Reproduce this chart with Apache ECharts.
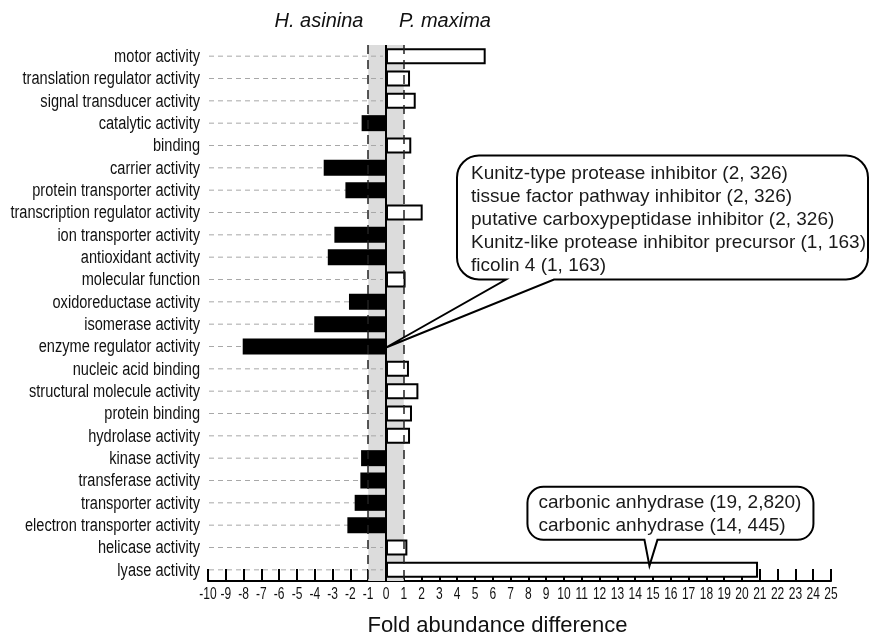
<!DOCTYPE html>
<html>
<head>
<meta charset="utf-8">
<script src="https://cdn.jsdelivr.net/npm/echarts@6/dist/echarts.min.js"></script>
<style>
html,body{margin:0;padding:0;background:#fff;}
#chart{width:881px;height:638px;}
</style>
</head>
<body>
<div id="chart"></div>
<script>
// ---- data ----
const categories = [
  'motor activity','translation regulator activity','signal transducer activity','catalytic activity',
  'binding','carrier activity','protein transporter activity','transcription regulator activity',
  'ion transporter activity','antioxidant activity','molecular function','oxidoreductase activity',
  'isomerase activity','enzyme regulator activity','nucleic acid binding','structural molecule activity',
  'protein binding','hydrolase activity','kinase activity','transferase activity','transporter activity',
  'electron transporter activity','helicase activity','lyase activity'
];
const foldValues = [
  5.6, 1.35, 1.67, -1.37,
  1.42, -3.5, -2.28, 2.06,
  -2.9, -3.27, 1.1, -2.08,
  -4.03, -8.05, 1.29, 1.82,
  1.46, 1.35, -1.4, -1.44, -1.76,
  -2.17, 1.2, 20.9
];
const xTickLabels = [-10,-9,-8,-7,-6,-5,-4,-3,-2,-1,0,1,2,3,4,5,6,7,8,9,10,11,12,13,14,15,16,17,18,19,20,21,22,23,24,25];
const xRange = {min: -10, max: 25, interval: 1};
const bandEdges = [-1, 1];
const speciesLabels = ['H. asinina', 'P. maxima'];
const callout1Lines = [
  'Kunitz-type protease inhibitor (2, 326)',
  'tissue factor pathway inhibitor (2, 326)',
  'putative carboxypeptidase inhibitor (2, 326)',
  'Kunitz-like protease inhibitor precursor (1, 163)',
  'ficolin 4 (1, 163)'
];
const callout1Target = {category: 'enzyme regulator activity', value: 0};
const callout2Lines = [
  'carbonic anhydrase (19, 2,820)',
  'carbonic anhydrase (14, 445)'
];
const callout2Target = {category: 'lyase activity', value: 14.8};
const axisTitle = 'Fold abundance difference';

// ---- chart ----
const SANS = '"Liberation Sans", Arial, Helvetica, sans-serif';
const chart = echarts.init(document.getElementById('chart'));

function calloutPath(x0, y0, x1, y1, r, tA, tB, tip) {
  return 'M' + (x0 + r) + ' ' + y0 +
    ' L' + (x1 - r) + ' ' + y0 +
    ' A' + r + ' ' + r + ' 0 0 1 ' + x1 + ' ' + (y0 + r) +
    ' L' + x1 + ' ' + (y1 - r) +
    ' A' + r + ' ' + r + ' 0 0 1 ' + (x1 - r) + ' ' + y1 +
    ' L' + tB + ' ' + y1 +
    ' L' + tip[0] + ' ' + tip[1] +
    ' L' + tA + ' ' + y1 +
    ' L' + (x0 + r) + ' ' + y1 +
    ' A' + r + ' ' + r + ' 0 0 1 ' + x0 + ' ' + (y1 - r) +
    ' L' + x0 + ' ' + (y0 + r) +
    ' A' + r + ' ' + r + ' 0 0 1 ' + (x0 + r) + ' ' + y0 + ' Z';
}

function makeCallout(lines, geom) {
  return function (params, api) {
    const c = api.coord([api.value(0), api.value(1)]);
    const tip = [c[0], c[1] + geom.tipDy];
    const children = [{
      type: 'path',
      shape: {pathData: calloutPath(tip[0] + geom.x0, tip[1] + geom.y0, tip[0] + geom.x1, tip[1] + geom.y1,
        geom.r, tip[0] + geom.tA, tip[0] + geom.tB, tip)},
      style: {fill: '#fff', stroke: '#000', lineWidth: 2}
    }];
    lines.forEach((s, i) => children.push({
      type: 'text', x: tip[0] + geom.tx, y: tip[1] + geom.ty + geom.lh * i,
      style: {text: s, fill: '#1a1a1a', font: geom.font, align: 'left', verticalAlign: 'middle'}
    }));
    return {type: 'group', children: children};
  };
}

const option = {
  backgroundColor: '#fff',
  animation: false,
  grid: {left: 208, right: 50, top: 45, bottom: 57, containLabel: false, outerBoundsMode: 'none'},
  xAxis: {
    type: 'value', min: xRange.min, max: xRange.max, interval: xRange.interval,
    axisLine: {show: true, onZero: false, lineStyle: {color: '#000', width: 2}},
    axisTick: {show: true, inside: true, length: 12, lineStyle: {color: '#000', width: 2}},
    axisLabel: {show: false},
    splitLine: {show: false},
    name: axisTitle, nameLocation: 'middle', nameGap: 34,
    nameTextStyle: {color: '#111', fontFamily: SANS, fontSize: 22, padding: [0, 44, 0, 0]}
  },
  yAxis: {
    type: 'category', data: categories, inverse: true,
    axisLine: {show: false}, axisTick: {show: false},
    axisLabel: {show: false},
    splitLine: {show: false}
  },
  series: [
    {
      type: 'line', data: [], z: 1, silent: true,
      markArea: {
        silent: true,
        itemStyle: {color: '#dcdcdc'},
        data: [[{xAxis: bandEdges[0]}, {xAxis: bandEdges[1]}]]
      }
    },
    {
      // dashed guide lines from the left edge to zero
      type: 'custom', z: 2, silent: true,
      data: categories.map((c, i) => [xRange.min, i]),
      encode: {x: 0, y: 1},
      renderItem: function (params, api) {
        const y = api.value(1);
        const p0 = api.coord([xRange.min, y]);
        const p1 = api.coord([0, y]);
        return {
          type: 'line',
          shape: {x1: p0[0] + 1, y1: p0[1], x2: p1[0] - 3, y2: p1[1]},
          style: {stroke: '#a8a8a8', lineWidth: 1, lineDash: [5, 4]}
        };
      }
    },
    {
      type: 'bar', z: 3, barWidth: 16,
      data: foldValues.map(v => ({
        value: v,
        itemStyle: {color: v < 0 ? '#000' : '#fff', borderColor: '#000', borderWidth: v < 0 ? 0 : 2}
      })),
      markLine: {
        silent: true, symbol: 'none', label: {show: false},
        data: [
          {xAxis: bandEdges[0], lineStyle: {color: '#222', width: 1.5, type: [9, 6]}},
          {xAxis: bandEdges[1], lineStyle: {color: '#222', width: 1.5, type: [9, 6]}},
          {xAxis: 0, lineStyle: {color: '#000', width: 2, type: 'solid'}}
        ]
      }
    },
    {
      // category labels (condensed)
      type: 'custom', z: 4, silent: true,
      data: categories.map((c, i) => [xRange.min, i]),
      encode: {x: 0, y: 1},
      renderItem: function (params, api) {
        const idx = api.value(1);
        const p = api.coord([xRange.min, idx]);
        return {
          type: 'text', x: p[0] - 8, y: p[1] + 1, scaleX: 0.81,
          style: {text: categories[idx], font: '18px ' + SANS, fill: '#111', align: 'right', verticalAlign: 'middle'}
        };
      }
    },
    {
      // x tick labels (condensed)
      type: 'custom', z: 4, silent: true,
      data: xTickLabels.map(v => [v, 0]),
      encode: {x: 0, y: 1},
      renderItem: function (params, api) {
        const v = api.value(0);
        const p = api.coord([v, 0]);
        const cs = params.coordSys;
        return {
          type: 'text', x: p[0], y: cs.y + cs.height + 14, scaleX: 0.75,
          style: {text: String(v), font: '16px ' + SANS, fill: '#111', align: 'center', verticalAlign: 'middle'}
        };
      }
    },
    {
      type: 'custom', z: 10, silent: true,
      data: [[callout1Target.value, categories.indexOf(callout1Target.category)]],
      encode: {x: 0, y: 1},
      renderItem: makeCallout(callout1Lines, {
        tipDy: 1, x0: 71, x1: 482, y0: -192, y1: -68, r: 22, tA: 120, tB: 168,
        tx: 85, ty: -174, lh: 23, font: '19px ' + SANS
      })
    },
    {
      type: 'custom', z: 10, silent: true,
      data: [[callout2Target.value, categories.indexOf(callout2Target.category)]],
      encode: {x: 0, y: 1},
      renderItem: makeCallout(callout2Lines, {
        tipDy: -4, x0: -122, x1: 164, y0: -79, y1: -26, r: 16, tA: -5, tB: 8,
        tx: -111, ty: -63, lh: 23, font: '19px ' + SANS
      })
    }
  ],
  graphic: [
    {type: 'text', x: 319, y: 21,
      style: {text: speciesLabels[0], fill: '#111', font: 'italic 20px ' + SANS, align: 'center', verticalAlign: 'middle'}},
    {type: 'text', x: 445, y: 21,
      style: {text: speciesLabels[1], fill: '#111', font: 'italic 20px ' + SANS, align: 'center', verticalAlign: 'middle'}}
  ]
};
chart.setOption(option);
</script>
</body>
</html>
